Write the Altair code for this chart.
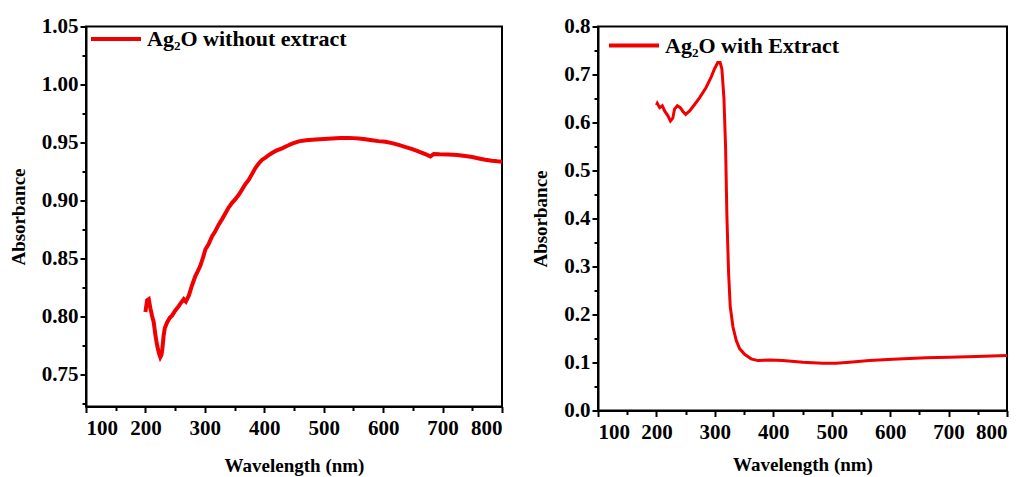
import altair as alt
import pandas as pd

# ---- data ----
wl_a = [200, 202.8, 205.6, 208.4, 211, 214, 216.8, 219, 221, 223, 225, 227, 228.5, 230.5, 232.5, 236.5, 241, 245,
        250, 256, 260, 264.5, 268, 273, 278.5, 284, 288, 292.5, 297, 301, 306, 312, 317, 323, 329, 334.6, 340,
        345.8, 351, 357, 362, 368, 374, 379.5, 385, 390.7, 396, 402, 407, 413, 420, 430, 438, 446.8, 458, 470,
        486, 500, 514, 528, 542, 550, 559, 570, 581, 592, 604, 615, 626, 638, 649, 657, 665.5, 673, 679.5, 685,
        695, 710, 725, 738, 750, 761, 772, 783, 792, 800]
abs_a = [0.804, 0.814, 0.815, 0.807, 0.801, 0.795, 0.784, 0.777, 0.772, 0.768, 0.765, 0.767, 0.772, 0.783, 0.790,
         0.795, 0.799, 0.801, 0.805, 0.809, 0.812, 0.815, 0.813, 0.818, 0.827, 0.835, 0.839, 0.844, 0.851, 0.858,
         0.862, 0.869, 0.873, 0.879, 0.884, 0.889, 0.894, 0.898, 0.901, 0.905, 0.909, 0.914, 0.918, 0.923, 0.928,
         0.932, 0.935, 0.937, 0.939, 0.941, 0.943, 0.945, 0.947, 0.949, 0.951, 0.952, 0.9526, 0.953, 0.9534,
         0.9538, 0.954, 0.9538, 0.9534, 0.9528, 0.952, 0.9512, 0.9506, 0.9495, 0.948, 0.946, 0.9443, 0.9428,
         0.941, 0.9395, 0.938, 0.940, 0.9398, 0.9397, 0.9392, 0.9383, 0.9375, 0.9363, 0.9352, 0.9343, 0.9338,
         0.9335]

wl_b = [200, 201.5, 205.5, 210, 214, 219.7, 224, 228, 231, 235.7, 240.8, 245.4, 250, 256.8, 265, 274, 285, 293.8,
        299.5, 305, 309, 312, 315.5, 318.4, 320.6, 323.5, 326.3, 331, 336.6, 342.3, 350.9, 362, 373.7, 393.6,
        416, 450.6, 484.8, 507.6, 530.4, 564.6, 604.5, 661.6, 701.5, 747, 800]
abs_b = [0.636, 0.640, 0.631, 0.635, 0.624, 0.614, 0.603, 0.609, 0.628, 0.635, 0.631, 0.623, 0.617, 0.624, 0.637,
         0.652, 0.673, 0.695, 0.712, 0.725, 0.725, 0.712, 0.652, 0.547, 0.406, 0.287, 0.217, 0.174, 0.146, 0.129,
         0.117, 0.1076, 0.104, 0.1054, 0.104, 0.1005, 0.0984, 0.0984, 0.1005, 0.104, 0.1069, 0.1097, 0.1111,
         0.1125, 0.1146]

x_major = [100, 200, 300, 400, 500, 600, 700, 800]
x_minor = [150, 250, 350, 450, 550, 650, 750]
ya_major = [0.75, 0.80, 0.85, 0.90, 0.95, 1.00, 1.05]
ya_minor = [0.725, 0.775, 0.825, 0.875, 0.925, 0.975, 1.025]
yb_major = [0.0, 0.1, 0.2, 0.3, 0.4, 0.5, 0.6, 0.7, 0.8]
yb_minor = [0.05, 0.15, 0.25, 0.35, 0.45, 0.55, 0.65, 0.75]
label_a = "Ag₂O without extract"
label_b = "Ag₂O with Extract"

FONT = "Liberation Serif"
RED = "#f00000"


def panel(wl, ab, label, ydom, ymaj, ymin, yfmt, w, h, lx, ly, sw, xtp):
    df = pd.DataFrame({"wl": wl, "abs": ab, "series": label})
    xs = alt.Scale(domain=[100, 800], nice=False, zero=False)
    ys = alt.Scale(domain=ydom, nice=False, zero=False)
    line = alt.Chart(df).mark_line(strokeWidth=sw, clip=True).encode(
        x=alt.X("wl:Q", scale=xs,
                axis=alt.Axis(values=x_major, format="d", title="Wavelength (nm)", orient="bottom",
                              labelPadding=5, titlePadding=xtp)),
        y=alt.Y("abs:Q", scale=ys,
                axis=alt.Axis(values=ymaj, format=yfmt, title="Absorbance", orient="left",
                              labelPadding=2, titlePadding=13)),
        color=alt.Color("series:N", scale=alt.Scale(range=[RED]),
                        legend=alt.Legend(orient="none", legendX=lx, legendY=ly, title=None,
                                          symbolType="stroke", symbolSize=2500, symbolStrokeWidth=4,
                                          labelFont=FONT, labelFontSize=22, labelFontWeight="bold",
                                          labelColor="black", labelOffset=4, padding=0, labelLimit=0)),
    )
    mx = alt.Chart(pd.DataFrame({"m": x_minor})).mark_point(opacity=0).encode(
        x=alt.X("m:Q", scale=xs,
                axis=alt.Axis(values=x_minor, labels=False, title=None, orient="bottom", tickSize=4,
                              domain=False)),
        y=alt.Y("v:Q", scale=ys, axis=None),
    ).transform_calculate(v=str(ydom[0]))
    my = alt.Chart(pd.DataFrame({"m": ymin})).mark_point(opacity=0).encode(
        y=alt.Y("m:Q", scale=ys,
                axis=alt.Axis(values=ymin, labels=False, title=None, orient="left", tickSize=4,
                              domain=False)),
        x=alt.X("v:Q", scale=xs, axis=None),
    ).transform_calculate(v="100")
    return alt.layer(line, mx, my).resolve_axis(x="independent", y="independent").properties(
        width=w, height=h)


left = panel(wl_a, abs_a, label_a, [0.7225, 1.05], ya_major, ya_minor, ".2f", 416, 380, 3, -14.5, 4, 18)
right = panel(wl_b, abs_b, label_b, [0.0, 0.8], yb_major, yb_minor, ".1f", 409, 384, 9, -8, 3, 13)

chart = alt.hconcat(left, right, spacing=96, bounds="flush").resolve_scale(color="independent").configure(
    padding={"top": 2.5, "left": 0, "right": 0, "bottom": 0},
    background="white",
).configure_view(
    stroke="black", strokeWidth=2
).configure_axis(
    grid=False,
    domainColor="black", domainWidth=2,
    tickColor="black", tickWidth=2, tickSize=6,
    labelFont=FONT, labelFontSize=21, labelFontWeight="bold", labelColor="black",
    titleFont=FONT, titleFontSize=19, titleFontWeight="bold", titleColor="black",
)

chart.save("out.html", embed_options={"renderer": "svg", "actions": False})
